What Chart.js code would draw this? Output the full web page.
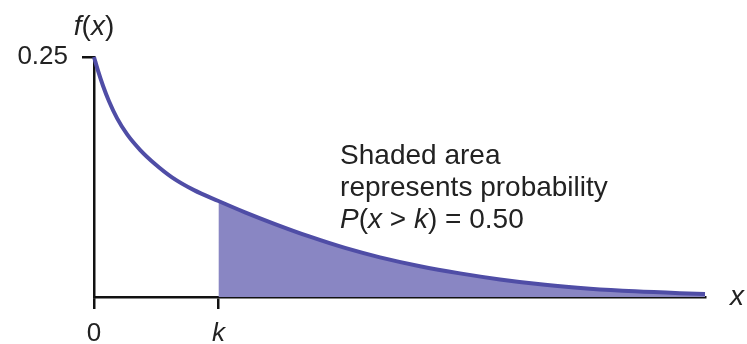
<!DOCTYPE html>
<html>
<head>
<meta charset="utf-8">
<script src="https://cdn.jsdelivr.net/npm/chart.js@4"></script>
<style>
    body { margin: 0; background: #fff; }
    #expo { display: block; }
</style>
</head>
<body>
<canvas id="expo" width="747" height="344"></canvas>
<script>
// Data
const xVals = [0, 0.089, 0.200, 0.334, 0.512, 0.734, 1.024, 1.358, 1.736, 2.226, 2.77, 3.362, 4.029, 4.808, 5.587, 6.366, 7.256, 8.146, 9.036, 10.038, 11.039, 12.041, 13.042, 13.6];
const fVals = [0.25, 0.2358, 0.2201, 0.2039, 0.1863, 0.1696, 0.1533, 0.1385, 0.1246, 0.1113, 0.1000, 0.0882, 0.0760, 0.0628, 0.0511, 0.0413, 0.0321, 0.0246, 0.0183, 0.0127, 0.0087, 0.0059, 0.0040, 0.0032];
const kValue = 2.77;
const xMax = 13.6;
const xTickValues = [0, kValue];
const xTickLabels = ['0', 'k'];
const yTickValues = [0.25];
const yTickLabels = ['0.25'];
const noteLines = ['Shaded area', 'represents probability'];

const curve_points = xVals.map((x, i) => ({ x: x, y: fVals[i] }));
const shaded_points = curve_points.filter(p => p.x >= kValue);

const FONT = '"Liberation Sans", Arial, sans-serif';

// draws a list of [text, italic] pieces left to right
function drawRuns(ctx, runs, x, y, size) {
    runs.forEach(r => {
        ctx.font = (r[1] ? 'italic ' : '') + size + 'px ' + FONT;
        ctx.fillText(r[0], x, y);
        x += ctx.measureText(r[0]).width;
    });
}

function runsWidth(ctx, runs, size) {
    let w = 0;
    runs.forEach(r => {
        ctx.font = (r[1] ? 'italic ' : '') + size + 'px ' + FONT;
        w += ctx.measureText(r[0]).width;
    });
    return w;
}

const textPlugin = {
    id: 'texts',
    afterDraw(chart) {
        const ctx = chart.ctx;
        const xs = chart.scales.x, ys = chart.scales.y;
        ctx.save();
        ctx.fillStyle = '#222';
        ctx.textBaseline = 'alphabetic';

        // f(x) over the y axis
        const fx = [['f', true], ['(', false], ['x', true], [')', false]];
        const w = runsWidth(ctx, fx, 28);
        drawRuns(ctx, fx, xs.getPixelForValue(0) - w / 2, 35, 28);

        // x at the end of the axis
        drawRuns(ctx, [['x', true]], xs.right + 25, ys.getPixelForValue(0) + 8, 28);

        // note
        const nx = xs.getPixelForValue(5.5) - 1;
        const ny = ys.getPixelForValue(0.1);
        ctx.font = '28px ' + FONT;
        ctx.fillText(noteLines[0], nx, ny - 37);
        ctx.fillText(noteLines[1], nx, ny - 5);
        drawRuns(ctx, [['P', true], ['(', false], ['x', true], [' > ', false], ['k', true], [') = 0.50', false]], nx, ny + 27, 28);
        ctx.restore();
    }
};

new Chart(document.getElementById('expo'), {
    type: 'line',
    data: {
        datasets: [{
            data: curve_points,
            borderColor: '#4f4da6',
            borderWidth: 4,
            borderCapStyle: 'butt',
            pointRadius: 0,
            cubicInterpolationMode: 'monotone',
            fill: false,
            clip: 6
        }, {
            data: shaded_points,
            borderWidth: 0,
            backgroundColor: '#8986c3',
            pointRadius: 0,
            cubicInterpolationMode: 'monotone',
            fill: 'origin'
        }]
    },
    options: {
        responsive: false,
        animation: false,
        layout: { padding: { top: 57, right: 42, left: 0, bottom: 0 } },
        plugins: { legend: { display: false }, tooltip: { enabled: false } },
        scales: {
            x: {
                type: 'linear',
                min: 0,
                max: xMax,
                afterFit: s => { s.height = 47; },
                afterBuildTicks: s => { s.ticks = xTickValues.map(v => ({ value: v })); },
                border: { display: true, color: '#111', width: 2.5 },
                grid: { drawOnChartArea: false, drawTicks: true, tickLength: 12, color: '#111', lineWidth: 2.5 },
                ticks: {
                    color: '#222',
                    padding: 9,
                    maxRotation: 0,
                    autoSkip: false,
                    font: c => ({ family: FONT, size: 26, style: (c.tick && c.tick.value !== 0) ? 'italic' : 'normal' }),
                    callback: (v) => xTickLabels[xTickValues.indexOf(v)]
                }
            },
            y: {
                min: 0,
                max: 0.25,
                afterFit: s => { s.width = 94; },
                afterBuildTicks: s => { s.ticks = yTickValues.map(v => ({ value: v })); },
                border: { display: true, color: '#111', width: 2.5 },
                grid: { drawOnChartArea: false, drawTicks: true, tickLength: 12, color: '#111', lineWidth: 2.5 },
                ticks: {
                    color: '#222',
                    padding: 14,
                    font: { family: FONT, size: 26 },
                    callback: (v) => yTickLabels[yTickValues.indexOf(v)]
                }
            }
        }
    },
    plugins: [textPlugin]
});
</script>
</body>
</html>
